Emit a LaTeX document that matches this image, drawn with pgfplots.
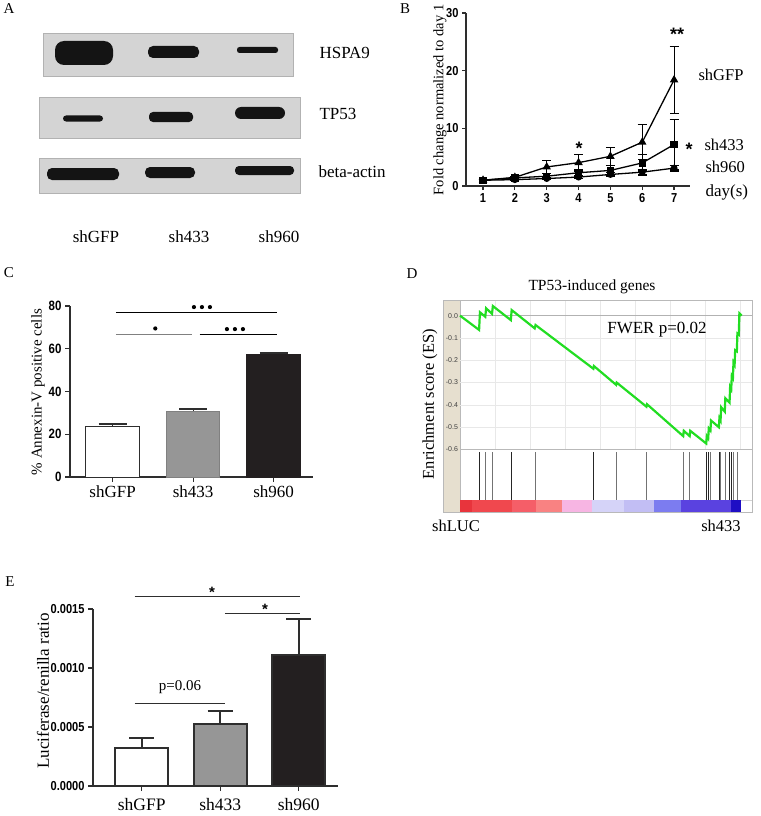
\documentclass[border=0pt]{standalone}
\usepackage{pgfplots}
\pgfplotsset{compat=1.18}
\usepackage{fontspec}
\setmainfont{Liberation Serif}
\newfontfamily\tickb[FakeStretch=0.85]{Liberation Sans Bold}
\newfontfamily\sansf{Liberation Sans}
\newcommand{\fs}[1]{\fontsize{#1}{#1}\selectfont}
\definecolor{axgray}{HTML}{2E2E2E}
\definecolor{blotbg}{HTML}{D4D4D4}
\definecolor{barg}{HTML}{969696}
\definecolor{barb}{HTML}{231F20}
\definecolor{esgreen}{HTML}{22DD22}
\definecolor{beige}{HTML}{E6DFCF}
\definecolor{cb1}{HTML}{E8343C}
\definecolor{cb2}{HTML}{F0484E}
\definecolor{cb3}{HTML}{F55E68}
\definecolor{cb4}{HTML}{F98282}
\definecolor{cb5}{HTML}{F7B5E3}
\definecolor{cb6}{HTML}{D5D3F8}
\definecolor{cb7}{HTML}{C2BEF4}
\definecolor{cb8}{HTML}{7C7CF0}
\definecolor{cb9}{HTML}{5A42E0}
\definecolor{cb10}{HTML}{1E0EC4}
\begin{document}
\begin{tikzpicture}[x=1pt,y=1pt]
\useasboundingbox (0,0) rectangle (760,-816);

% ================= Panel A (western blot) =================
\begin{axis}[hide axis, scale only axis, width=380pt, height=270pt,
  xmin=0, xmax=380, ymin=-270, ymax=0, at={(0pt,-270pt)}, anchor=south west, clip=false]
\fill[blotbg, draw=gray!60] (axis cs:43,-33) rectangle (axis cs:293,-76);
\fill[blotbg, draw=gray!60] (axis cs:39,-97) rectangle (axis cs:300,-138);
\fill[blotbg, draw=gray!60] (axis cs:39,-158) rectangle (axis cs:300,-193);
% HSPA9
\fill[black!92, rounded corners=9pt] (axis cs:55,-41) rectangle (axis cs:113,-65);
\fill[black!92, rounded corners=5pt] (axis cs:148,-46) rectangle (axis cs:199,-58);
\fill[black!92, rounded corners=2.5pt] (axis cs:237,-47) rectangle (axis cs:278,-53);
% TP53
\fill[black!92, rounded corners=3pt] (axis cs:63,-115.5) rectangle (axis cs:103,-121.5);
\fill[black!92, rounded corners=4pt] (axis cs:149,-112) rectangle (axis cs:193,-122);
\fill[black!92, rounded corners=6pt] (axis cs:235,-107) rectangle (axis cs:285,-119);
% beta-actin
\fill[black!92, rounded corners=5pt] (axis cs:47,-168) rectangle (axis cs:119,-180);
\fill[black!92, rounded corners=5pt] (axis cs:145,-167) rectangle (axis cs:195,-178);
\fill[black!92, rounded corners=4pt] (axis cs:235,-166) rectangle (axis cs:294,-175);
\end{axis}
\node[font=\fs{15}] at (9,-9) {A};
\node[font=\fs{17}, anchor=west] at (316,-52.5) {HSPA9};
\node[font=\fs{17}, anchor=west] at (316,-114) {TP53};
\node[font=\fs{17}, anchor=west] at (315,-172) {beta-actin};
\node[font=\fs{17}] at (96,-237) {shGFP};
\node[font=\fs{17}] at (189,-237) {sh433};
\node[font=\fs{17}] at (279,-237) {sh960};

% ================= Panel B =================
\begin{axis}[at={(466pt,-186pt)}, anchor=south west, scale only axis,
  width=224pt, height=173pt, xmin=0.465, xmax=7.5, ymin=0, ymax=30,
  axis lines=left, axis line style={-, line width=1.4pt, axgray},
  xtick={1,2,3,4,5,6,7}, ytick={0,10,20,30}, tick align=outside,
  major tick length=4pt, tick style={line width=1.2pt, axgray},
  tick label style={font=\tickb\fs{13}}, /pgf/number format/assume math mode=true,
  clip=false]
\addplot[black, line width=1.3pt, mark=triangle*, mark size=3.6pt,
  error bars/.cd, y dir=both, y explicit, error bar style={line width=1.1pt},
  error mark options={rotate=90, mark size=4.5pt, line width=1.1pt}]
  coordinates {(1,1.0) +- (0,0.1) (2,1.5) +- (0,0.2) (3,3.3) +- (0,1.15) (4,4.05) +- (0,1.45)
               (5,5.15) +- (0,1.6) (6,7.6) +- (0,3.0) (7,18.4) +- (0,5.8)};
\addplot[black, line width=1.3pt, mark=square*, mark size=3pt,
  error bars/.cd, y dir=both, y explicit, error bar style={line width=1.1pt},
  error mark options={rotate=90, mark size=4.5pt, line width=1.1pt}]
  coordinates {(1,1.0) +- (0,0.1) (2,1.4) +- (0,0.2) (3,1.7) +- (0,0.4) (4,2.3) +- (0,0.6)
               (5,2.7) +- (0,0.9) (6,4.0) +- (0,1.4) (7,7.2) +- (0,4.4)};
\addplot[black, line width=1.3pt, mark=*, mark size=2.8pt,
  error bars/.cd, y dir=both, y explicit, error bar style={line width=1.1pt},
  error mark options={rotate=90, mark size=4.5pt, line width=1.1pt}]
  coordinates {(1,1.0) +- (0,0.1) (2,1.1) +- (0,0.15) (3,1.3) +- (0,0.2) (4,1.55) +- (0,0.3)
               (5,2.0) +- (0,0.3) (6,2.4) +- (0,0.5) (7,3.1) +- (0,0.5)};
\end{axis}
\node[font=\fs{15}] at (405,-9) {B};
\node[rotate=90, font=\fs{14.5}] at (440,-100) {Fold change normalized to day 1};
\node[font=\fs{16.5}, anchor=west] at (695,-75) {shGFP};
\node[font=\fs{16.5}, anchor=west] at (701,-145) {sh433};
\node[font=\fs{16.5}, anchor=west] at (702,-167) {sh960};
\node[font=\fs{17}, anchor=west] at (702,-192) {day(s)};
\node[font=\sansf\bfseries\fs{18}] at (677,-34) {**};
\node[font=\sansf\bfseries\fs{18}] at (579,-148) {*};
\node[font=\sansf\bfseries\fs{18}] at (689,-149) {*};

% ================= Panel C =================
\begin{axis}[at={(70pt,-477pt)}, anchor=south west, scale only axis,
  width=243pt, height=171pt, xmin=-0.53, xmax=2.49, ymin=0, ymax=80,
  axis lines=left, axis line style={-, line width=1.4pt, axgray},
  xtick={0,1,2}, xticklabels={shGFP,sh433,sh960}, ytick={0,20,40,60,80},
  tick align=outside, major tick length=5pt, tick style={line width=1.2pt, axgray},
  y tick label style={font=\tickb\fs{13.5}}, x tick label style={font=\fs{17}},
  /pgf/number format/assume math mode=true, clip=false]
\addplot[ybar, bar width=0.665, bar shift=0pt, fill=white, draw=axgray, line width=0.8pt,
  error bars/.cd, y dir=plus, y explicit, error bar style={line width=1.2pt, axgray},
  error mark options={rotate=90, mark size=14pt, line width=1.8pt, axgray}]
  coordinates {(0,23.7) +- (0,1.1)};
\addplot[ybar, bar width=0.665, bar shift=0pt, fill=barg, draw=gray, line width=0.8pt,
  error bars/.cd, y dir=plus, y explicit, error bar style={line width=1.2pt, axgray},
  error mark options={rotate=90, mark size=14pt, line width=1.8pt, axgray}]
  coordinates {(1,30.9) +- (0,1.1)};
\addplot[ybar, bar width=0.665, bar shift=0pt, fill=barb, draw=barb, line width=0.8pt,
  error bars/.cd, y dir=plus, y explicit, error bar style={line width=1.2pt, axgray},
  error mark options={rotate=90, mark size=14pt, line width=1.8pt, axgray}]
  coordinates {(2,57.5) +- (0,0.5)};
\draw[black, line width=0.9pt] (axis cs:0.04,77) -- (axis cs:2.04,77);
\draw[gray, line width=1pt] (axis cs:0.04,66.8) -- (axis cs:0.98,66.8);
\draw[black, line width=0.9pt] (axis cs:1.08,66.8) -- (axis cs:2.04,66.8);
\fill[black] ([xshift=-8pt]axis cs:1.11,79.5) circle (2.1pt);
\fill[black] (axis cs:1.11,79.5) circle (2.1pt);
\fill[black] ([xshift=8pt]axis cs:1.11,79.5) circle (2.1pt);
\fill[black] (axis cs:0.53,69.5) circle (2.1pt);
\fill[black] ([xshift=-8pt]axis cs:1.52,69.2) circle (2.1pt);
\fill[black] (axis cs:1.52,69.2) circle (2.1pt);
\fill[black] ([xshift=8pt]axis cs:1.52,69.2) circle (2.1pt);
\end{axis}
\node[font=\fs{15}] at (9,-273) {C};
\node[rotate=90, font=\fs{15}] at (38,-392) {\% Annexin-V positive cells};

% ================= Panel D (GSEA) =================
\fill[beige] (443,-300) rectangle (460,-512);
\begin{axis}[at={(460pt,-512pt)}, anchor=south west, scale only axis,
  width=292pt, height=212pt, xmin=0, xmax=104, ymin=-0.88, ymax=0.07,
  axis line style={gray!55, line width=0.8pt},
  xtick=\empty, ytick={-0.6,-0.5,-0.4,-0.3,-0.2,-0.1,0},
  yticklabels={-0.6,-0.5,-0.4,-0.3,-0.2,-0.1,0.0},
  major tick length=0pt, y tick label style={font=\sansf\fs{7}, text=black!75, xshift=1.5pt},
  clip=false]
% grid
\draw[gray!18, line width=0.6pt] (axis cs:12.5,0.07) -- (axis cs:12.5,-0.6);
\draw[gray!18, line width=0.6pt] (axis cs:25,0.07) -- (axis cs:25,-0.6);
\draw[gray!18, line width=0.6pt] (axis cs:37.5,0.07) -- (axis cs:37.5,-0.6);
\draw[gray!18, line width=0.6pt] (axis cs:50,0.07) -- (axis cs:50,-0.6);
\draw[gray!18, line width=0.6pt] (axis cs:62.5,0.07) -- (axis cs:62.5,-0.6);
\draw[gray!18, line width=0.6pt] (axis cs:75,0.07) -- (axis cs:75,-0.6);
\draw[gray!18, line width=0.6pt] (axis cs:87.5,0.07) -- (axis cs:87.5,-0.6);
\draw[gray!18, line width=0.6pt] (axis cs:100,0.07) -- (axis cs:100,-0.6);
\draw[gray!18, line width=0.6pt] (axis cs:0,-0.1) -- (axis cs:104,-0.1);
\draw[gray!18, line width=0.6pt] (axis cs:0,-0.2) -- (axis cs:104,-0.2);
\draw[gray!18, line width=0.6pt] (axis cs:0,-0.3) -- (axis cs:104,-0.3);
\draw[gray!18, line width=0.6pt] (axis cs:0,-0.4) -- (axis cs:104,-0.4);
\draw[gray!18, line width=0.6pt] (axis cs:0,-0.5) -- (axis cs:104,-0.5);
\draw[gray!60, line width=0.9pt] (axis cs:0,0) -- (axis cs:104,0);
\draw[gray!55, line width=0.9pt] (axis cs:0,-0.6) -- (axis cs:104,-0.6);
\draw[gray!35, line width=0.6pt] (axis cs:0,-0.828) -- (axis cs:104,-0.828);
% colour bar
\fill[cb1] (axis cs:0,-0.88) rectangle (axis cs:4.4,-0.828);
\fill[cb2] (axis cs:4.4,-0.88) rectangle (axis cs:18.6,-0.828);
\fill[cb3] (axis cs:18.6,-0.88) rectangle (axis cs:27,-0.828);
\fill[cb4] (axis cs:27,-0.88) rectangle (axis cs:36.2,-0.828);
\fill[cb5] (axis cs:36.2,-0.88) rectangle (axis cs:47.1,-0.828);
\fill[cb6] (axis cs:47.1,-0.88) rectangle (axis cs:58.4,-0.828);
\fill[cb7] (axis cs:58.4,-0.88) rectangle (axis cs:69.1,-0.828);
\fill[cb8] (axis cs:69.1,-0.88) rectangle (axis cs:78.6,-0.828);
\fill[cb9] (axis cs:78.6,-0.88) rectangle (axis cs:96.4,-0.828);
\fill[cb10] (axis cs:96.4,-0.88) rectangle (axis cs:100,-0.828);
% hits
\addplot[black!85, line width=1.1pt, unbounded coords=jump] coordinates {
 (7.0,-0.612) (7.0,-0.828) (nan,nan) (18.3,-0.612) (18.3,-0.828) (nan,nan)
 (47.6,-0.612) (47.6,-0.828) (nan,nan) (87.8,-0.612) (87.8,-0.828) (nan,nan)
 (88.5,-0.612) (88.5,-0.828) (nan,nan) (92.3,-0.612) (92.3,-0.828) (nan,nan)
 (96.1,-0.612) (96.1,-0.828) (nan,nan) (96.7,-0.612) (96.7,-0.828)};
\addplot[black!55, line width=1.0pt, unbounded coords=jump] coordinates {
 (9.1,-0.612) (9.1,-0.828) (nan,nan) (11.5,-0.612) (11.5,-0.828) (nan,nan)
 (26.8,-0.612) (26.8,-0.828) (nan,nan) (55.7,-0.612) (55.7,-0.828) (nan,nan)
 (66.5,-0.612) (66.5,-0.828) (nan,nan) (79.6,-0.612) (79.6,-0.828) (nan,nan)
 (81.9,-0.612) (81.9,-0.828) (nan,nan) (89.3,-0.612) (89.3,-0.828) (nan,nan)
 (92.9,-0.612) (92.9,-0.828) (nan,nan) (94.4,-0.612) (94.4,-0.828) (nan,nan)
 (97.3,-0.612) (97.3,-0.828) (nan,nan) (98.8,-0.612) (98.8,-0.828)};
% running enrichment score
\addplot[esgreen, line width=2.2pt] coordinates {
 (0,0) (6.8,-0.064) (7.1,0.015) (9.0,-0.005) (9.3,0.033) (11.4,0.008) (11.7,0.043)
 (18.1,-0.02) (18.4,0.025) (26.6,-0.057) (26.9,-0.042) (47.5,-0.238) (47.7,-0.226)
 (55.6,-0.31) (55.8,-0.30) (66.4,-0.408) (66.6,-0.397) (79.5,-0.540) (79.7,-0.516)
 (81.8,-0.540) (82.0,-0.516) (87.7,-0.573) (87.9,-0.54) (88.4,-0.55) (88.6,-0.505)
 (89.2,-0.515) (89.4,-0.47) (92.2,-0.50) (92.4,-0.46) (92.8,-0.47) (93.0,-0.41)
 (94.3,-0.43) (94.5,-0.37) (96.0,-0.39) (96.2,-0.32) (96.6,-0.33) (96.8,-0.27)
 (97.2,-0.28) (97.4,-0.21) (97.8,-0.22) (98.0,-0.155) (98.6,-0.16) (98.8,-0.08)
 (99.3,-0.085) (99.5,0.01) (100.3,0.0)};
\end{axis}
\draw[gray!55, line width=0.8pt] (443,-300) rectangle (752,-512);
\node[font=\fs{15}] at (412,-274) {D};
\node[font=\fs{15.5}] at (592,-287) {TP53-induced genes};
\node[font=\fs{17}] at (657,-330) {FWER p=0.02};
\node[rotate=90, font=\fs{16.5}] at (430,-404) {Enrichment score (ES)};
\node[font=\fs{16.5}] at (456,-526) {shLUC};
\node[font=\fs{16.5}] at (721,-526) {sh433};

% ================= Panel E =================
\begin{axis}[at={(93pt,-786pt)}, anchor=south west, scale only axis,
  width=245pt, height=177pt, xmin=-0.62, xmax=2.5, ymin=0, ymax=0.0015,
  axis lines=left, axis line style={-, line width=1.6pt, axgray},
  xtick={0,1,2}, xticklabels={shGFP,sh433,sh960},
  ytick={0,0.0005,0.001,0.0015}, yticklabels={0.0000,0.0005,0.0010,0.0015},
  scaled y ticks=false,
  tick align=outside, major tick length=5pt, tick style={line width=1.4pt, axgray},
  y tick label style={font=\tickb\fs{13}}, x tick label style={font=\fs{17.5}, yshift=-4pt},
  clip=false]
\addplot[ybar, bar width=0.675, bar shift=0pt, fill=white, draw=axgray, line width=2pt,
  error bars/.cd, y dir=plus, y explicit, error bar style={line width=2pt, axgray},
  error mark options={rotate=90, mark size=12.5pt, line width=2pt, axgray}]
  coordinates {(0,0.000318) +- (0,0.000093)};
\addplot[ybar, bar width=0.675, bar shift=0pt, fill=barg, draw=axgray, line width=2pt,
  error bars/.cd, y dir=plus, y explicit, error bar style={line width=2pt, axgray},
  error mark options={rotate=90, mark size=12.5pt, line width=2pt, axgray}]
  coordinates {(1,0.000525) +- (0,0.000113)};
\addplot[ybar, bar width=0.675, bar shift=0pt, fill=barb, draw=axgray, line width=2pt,
  error bars/.cd, y dir=plus, y explicit, error bar style={line width=2pt, axgray},
  error mark options={rotate=90, mark size=12.5pt, line width=2pt, axgray}]
  coordinates {(2,0.001109) +- (0,0.000306)};
\draw[axgray, line width=0.9pt] (axis cs:-0.09,0.00161) -- (axis cs:2.01,0.00161);
\draw[axgray, line width=0.9pt] (axis cs:1.06,0.001466) -- (axis cs:2.01,0.001466);
\draw[axgray, line width=0.9pt] (axis cs:-0.09,0.000703) -- (axis cs:1.06,0.000703);
\end{axis}
\node[font=\sansf\bfseries\fs{15}] at (212,-592) {*};
\node[font=\sansf\bfseries\fs{15}] at (265,-609) {*};
\node[font=\fs{15}] at (180,-687) {p=0.06};
\node[font=\fs{15}] at (10,-582) {E};
\node[rotate=90, font=\fs{17}] at (43,-691) {Luciferase/renilla ratio};
\end{tikzpicture}
\end{document}
